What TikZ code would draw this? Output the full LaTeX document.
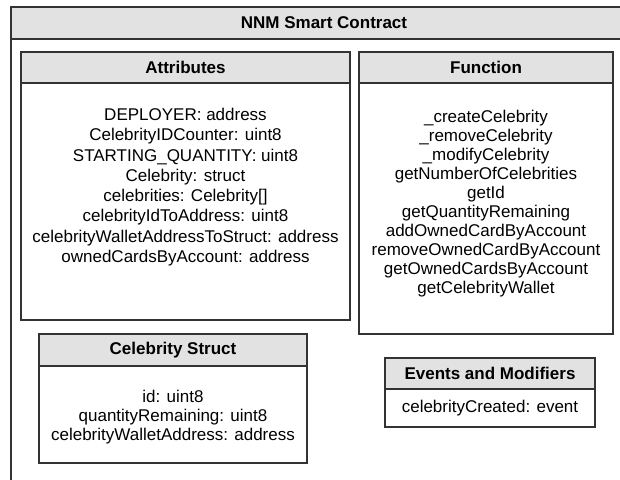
\documentclass[tikz,border=0pt]{standalone}
\usepackage{fontspec}
\setmainfont{Liberation Sans}
\definecolor{hdr}{HTML}{E2E2E2}
\definecolor{edge}{HTML}{333333}
\tikzset{
  frame/.style={draw=edge, line width=1.1pt},
  headbox/.style={frame, fill=hdr},
  bodybox/.style={frame, fill=white},
  title/.style={font=\bfseries\fontsize{12.75}{15}\selectfont, inner sep=0pt, anchor=center},
  lines/.style={font=\fontsize{12.75}{#1}\selectfont, align=center, inner sep=0pt, anchor=center},
}
\begin{document}
\begin{tikzpicture}[x=0.75pt,y=-0.75pt]
\clip (0,0) rectangle (620,479);
\fill[white] (0,0) rectangle (620,479);
% outer frame
\draw[bodybox] (11,7) rectangle (640,530);
\draw[headbox] (11,7) rectangle (640,39);
\node[title] (outertitle) at (324,23) {NNM Smart Contract};
% Attributes
\draw[bodybox] (21,52) rectangle (350,320);
\draw[headbox] (21,52) rectangle (350,83);
\node[title] (attrtitle) at (185.5,67.5) {Attributes};
\node[lines=15.2pt] (attrbody) at (185.5,187) {DEPLOYER: address\\CelebrityIDCounter: uint8\\STARTING\_QUANTITY: uint8\\Celebrity: struct\\celebrities: Celebrity[]\\celebrityIdToAddress: uint8\\celebrityWalletAddressToStruct: address\\ownedCardsByAccount: address};
% Function
\draw[bodybox] (359,52) rectangle (613,334);
\draw[headbox] (359,52) rectangle (613,83);
\node[title] (functitle) at (486,67.5) {Function};
\node[lines=14.25pt] (funcbody) at (486,204) {\_createCelebrity\\\_removeCelebrity\\\_modifyCelebrity\\getNumberOfCelebrities\\getId\\getQuantityRemaining\\addOwnedCardByAccount\\removeOwnedCardByAccount\\getOwnedCardsByAccount\\getCelebrityWallet};
% Celebrity Struct
\draw[bodybox] (39,334) rectangle (307,463);
\draw[headbox] (39,334) rectangle (307,366);
\node[title] (structtitle) at (173,350) {Celebrity Struct};
\node[lines=14pt] (structbody) at (173,417) {id: uint8\\quantityRemaining: uint8\\celebrityWalletAddress: address};
% Events and Modifiers
\draw[bodybox] (385,358) rectangle (595,427);
\draw[headbox] (385,358) rectangle (595,389);
\node[title] (evtitle) at (490,373.5) {Events and Modifiers};
\node[lines=14pt] (evbody) at (490,408) {celebrityCreated: event};
\end{tikzpicture}
\end{document}
